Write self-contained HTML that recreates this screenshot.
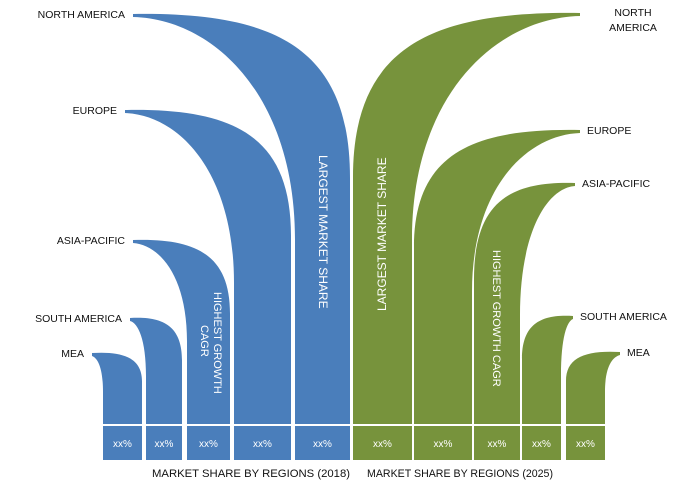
<!DOCTYPE html>
<html><head><meta charset="utf-8"><style>
html,body{margin:0;padding:0;background:#fff;}
svg{display:block;font-family:"Liberation Sans",Arial,sans-serif;}
</style></head><body>
<svg id="chart" width="693" height="489" viewBox="0 0 693 489">
<g id="shapes"></g>
<g id="boxes"></g>
<g id="labels"></g>
<text x="152" y="477" font-size="11" fill="#111" textLength="198" lengthAdjust="spacingAndGlyphs">MARKET SHARE BY REGIONS (2018)</text>
<text x="367" y="477" font-size="11" fill="#111" textLength="186" lengthAdjust="spacingAndGlyphs">MARKET SHARE BY REGIONS (2025)</text>
<text transform="translate(319,155) rotate(90)" font-size="12" fill="#fff">LARGEST MARKET SHARE</text>
<text transform="translate(386,311) rotate(-90)" font-size="12" fill="#fff">LARGEST MARKET SHARE</text>
<text transform="translate(214,292) rotate(90)" font-size="11" fill="#fff">HIGHEST GROWTH</text>
<text transform="translate(201,325) rotate(90)" font-size="11" fill="#fff">CAGR</text>
<text transform="translate(493,250) rotate(90)" font-size="11" fill="#fff">HIGHEST GROWTH CAGR</text>
</svg>
<script>
// data
const regions2018 = ["MEA","SOUTH AMERICA","ASIA-PACIFIC","EUROPE","NORTH AMERICA"];
const share2018 = [71,106,184,314,410];
const regions2025 = ["NORTH AMERICA","EUROPE","ASIA-PACIFIC","SOUTH AMERICA","MEA"];
const share2025 = [411,294,241,108,72];
const valueLabels = ["xx%","xx%","xx%","xx%","xx%"];

const NS="http://www.w3.org/2000/svg";
const baseY=424;
function yScale(v){return baseY - v;}
const cols2018=[[103,142],[146,182],[187,230],[234,291],[295,350]];
const tips2018X=[92,130,133,125,133];
const cols2025=[[353,412],[414,472],[474,520],[522,561],[566,605]];
const tips2025X=[580,580,575,573,620];
const blue="#4a7ebb", green="#77933c";

function leaf(x0,x1,tx,ty,left){
  const H=baseY-ty;
  if(left){
    return `M${tx},${ty} C${tx+(x1-tx)*0.65},${ty-2} ${x1},${ty+0.08*H} ${x1},${ty+0.4*H} L${x1},${baseY} L${x0},${baseY} L${x0},${ty+0.55*H} C${x0},${ty+0.2*H} ${tx+(x0-tx)*0.5},${ty+5} ${tx},${ty+3} Z`;
  } else {
    return `M${tx},${ty} C${tx-(tx-x0)*0.65},${ty-2} ${x0},${ty+0.08*H} ${x0},${ty+0.4*H} L${x0},${baseY} L${x1},${baseY} L${x1},${ty+0.55*H} C${x1},${ty+0.2*H} ${tx-(tx-x1)*0.5},${ty+5} ${tx},${ty+3} Z`;
  }
}
const gS=document.getElementById('shapes'), gB=document.getElementById('boxes'), gL=document.getElementById('labels');
function addSeries(regions,vals,cols,tipsX,color,left,yr){
  regions.forEach((r,i)=>{
    const ty=yScale(vals[i]);
    const p=document.createElementNS(NS,'path');
    p.setAttribute('d',leaf(cols[i][0],cols[i][1],tipsX[i],ty,left));
    p.setAttribute('fill',color);
    
    
    gS.appendChild(p);
    const b=document.createElementNS(NS,'rect');
    b.setAttribute('x',cols[i][0]);b.setAttribute('y',426);
    b.setAttribute('width',cols[i][1]-cols[i][0]);b.setAttribute('height',34);
    b.setAttribute('fill',color);
    
    
    gB.appendChild(b);
    const t=document.createElementNS(NS,'text');
    t.setAttribute('x',(cols[i][0]+cols[i][1])/2);t.setAttribute('y',447);
    t.setAttribute('text-anchor','middle');t.setAttribute('font-size','10');t.setAttribute('fill','#fff');
    t.textContent=valueLabels[i];
    
    
    gB.appendChild(t);
    const lab=document.createElementNS(NS,'text');
    lab.setAttribute('font-size','10.5');lab.setAttribute('fill','#111');
    if(left){
      lab.setAttribute('x',tipsX[i]-8);lab.setAttribute('y',ty+4);lab.setAttribute('text-anchor','end');
      lab.textContent=r;
    } else if(r==="NORTH AMERICA"){
      lab.setAttribute('x',633);lab.setAttribute('text-anchor','middle');
      const a=document.createElementNS(NS,'tspan');a.setAttribute('x',633);a.setAttribute('y',16);a.textContent="NORTH";
      const c=document.createElementNS(NS,'tspan');c.setAttribute('x',633);c.setAttribute('y',31);c.textContent="AMERICA";
      lab.appendChild(a);lab.appendChild(c);
    } else {
      lab.setAttribute('x',tipsX[i]+7);lab.setAttribute('y',ty+4);
      lab.textContent=r;
    }
    
    
    gL.appendChild(lab);
  });
}
addSeries(regions2018,share2018,cols2018,tips2018X,blue,true,'2018');
addSeries(regions2025,share2025,cols2025,tips2025X,green,false,'2025');
</script>
</body></html>
